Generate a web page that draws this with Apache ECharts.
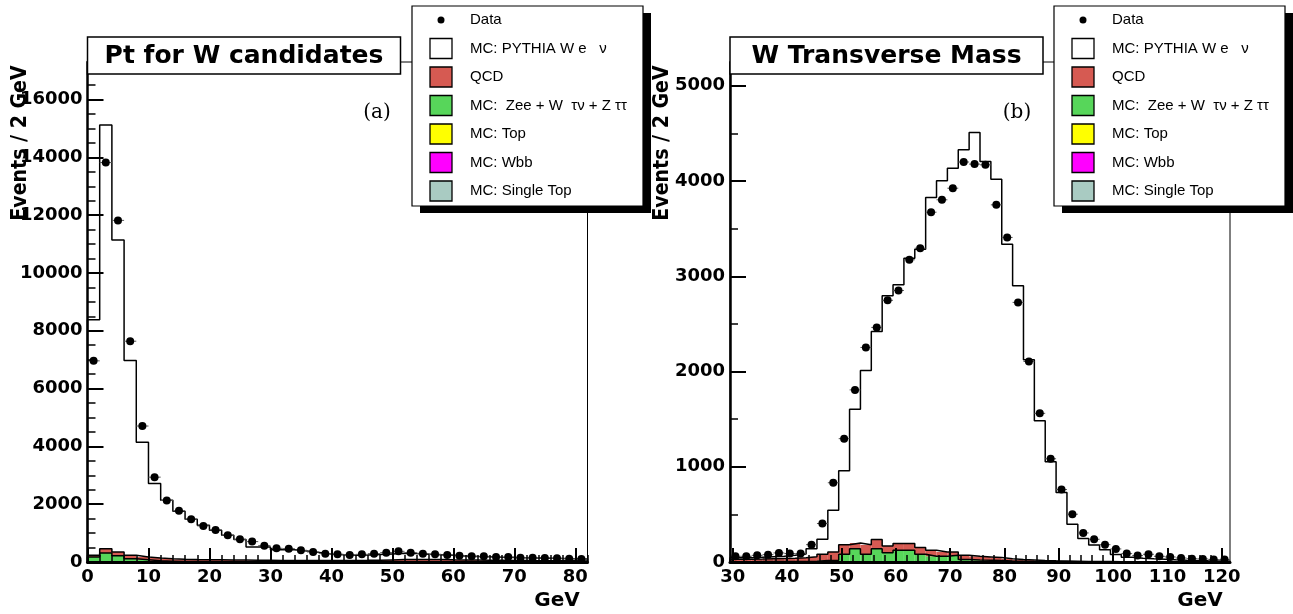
<!DOCTYPE html>
<html><head><meta charset="utf-8">
<script src="https://cdn.jsdelivr.net/npm/echarts@6/dist/echarts.min.js"></script>
<style>html,body{margin:0;padding:0;background:#fff}#c{width:1293px;height:614px}</style>
</head><body><div id="c"></div>
<script>
// ================= DATA =================
// Panel (a): Pt for W candidates, 2 GeV bins from 0 to 82
const ptBinLow = 0, ptBinWidth = 2;
const ptData = [6960, 13820, 11820, 7640, 4705, 2936, 2127, 1769, 1480, 1248,
  1110, 925, 786, 705, 566, 474, 462, 405, 347, 289,
  266, 243, 266, 289, 324, 370, 324, 289, 266, 243,
  220, 197, 197, 173, 173, 150, 150, 140, 127, 115, 104];
const ptWenu = [8149, 14658, 10793, 6739, 3967, 2578, 2025, 1662, 1395, 1190,
  1022, 854, 709, 459, 459, 364, 364, 328, 279, 229,
  197, 175, 182, 197, 207, 217, 202, 182, 167, 153,
  138, 123, 118, 108, 108, 93, 93, 83, 78, 68, 63];
const ptQCD = [58, 150, 127, 116, 93, 99, 85, 75, 70, 70,
  68, 64, 60, 56, 56, 52, 52, 48, 48, 48,
  50, 52, 55, 60, 70, 80, 85, 85, 80, 75,
  70, 65, 60, 55, 50, 50, 45, 45, 40, 40, 35];
const ptZee = [173, 312, 220, 115, 80, 40, 30, 20, 15, 10,
  8, 7, 6, 5, 5, 4, 4, 4, 3, 3,
  3, 3, 3, 3, 3, 3, 3, 3, 3, 2,
  2, 2, 2, 2, 2, 2, 2, 2, 2, 2, 2];

// Panel (b): W transverse mass, 2 GeV bins from 29.5 to 121.5
const mtBinLow = 29.5, mtBinWidth = 2;
const mtData = [60, 60, 70, 77, 95, 88, 88, 182, 404, 832,
  1295, 1807, 2253, 2463, 2748, 2851, 3173, 3295, 3673, 3803,
  3925, 4200, 4178, 4170, 3750, 3408, 2726, 2105, 1561, 1084,
  761, 502, 305, 239, 182, 137, 88, 67, 81, 60,
  53, 42, 35, 32, 25, 25];
const mtWenu = [15, 15, 18, 20, 22, 30, 40, 85, 158, 439,
  776, 1404, 1829, 2186, 2627, 2717, 2997, 3134, 3704, 3897,
  4030, 4258, 4450, 4152, 3974, 3302, 2875, 2103, 1469, 1041,
  720, 389, 240, 174, 124, 76, 49, 37, 32, 28,
  23, 18, 14, 11, 9, 7];
const mtQCD = [27, 27, 28, 31, 33, 35, 39, 47, 66, 87,
  101, 60, 101, 95, 70, 70, 70, 70, 63, 45,
  35, 45, 40, 35, 31, 25, 17, 14, 10, 8,
  7, 6, 4, 3, 3, 2, 1, 1, 2, 2,
  1, 1, 1, 1, 1, 1];
const mtZee = [3, 3, 4, 4, 5, 5, 6, 8, 15, 18,
  81, 140, 81, 140, 98, 123, 123, 81, 60, 60,
  70, 25, 20, 18, 15, 10, 8, 6, 5, 4,
  3, 2, 2, 1, 1, 1, 1, 1, 0, 0,
  0, 0, 0, 0, 0, 0];

// Axis ticks / labels
const ptXTicks = [0, 10, 20, 30, 40, 50, 60, 70, 80];
const mtXTicks = [30, 40, 50, 60, 70, 80, 90, 100, 110, 120];
const ptYTicks = [0, 2000, 4000, 6000, 8000, 10000, 12000, 14000, 16000];
const mtYTicks = [0, 1000, 2000, 3000, 4000, 5000];

const legendLabels = ['Data', 'MC: PYTHIA W e   \u03bd', 'QCD', 'MC:  Zee + W  \u03c4\u03bd + Z \u03c4\u03c4', 'MC: Top', 'MC: Wbb', 'MC: Single Top'];
const legendColors = [null, '#ffffff', '#d65a52', '#57d65a', '#ffff00', '#ff00ff', '#a9cbc2'];
const titles = ['Pt for W candidates', 'W Transverse Mass'];
const panelTags = ['(a)', '(b)'];

// ================= CHART =================
const chart = echarts.init(document.getElementById('c'), null, {renderer: 'canvas'});
const BOLD = 'DejaVu Sans';
const COL_QCD = legendColors[2], COL_ZEE = legendColors[3];

function range(a, b, s) { const r = []; for (let v = a; v <= b + 1e-9; v += s) r.push(+v.toFixed(3)); return r; }
const ptXMinor = range(0, 82, 2);
const mtXMinor = range(30, 120, 2);
const ptYMinor = range(0, 17000, 500);
const mtYMinor = range(0, 5000, 500);

const series = [];
function buildPanel(xi, yi, binLow, binW, data, comps) {
  const n = data.length;
  const edge = i => binLow + i * binW;
  let base = new Array(n).fill(0);
  const fills = [], outlines = [];
  comps.forEach(c => {
    const top = base.map((b, i) => b + c.vals[i]);
    const b0 = base.slice();
    fills.push({
      type: 'custom', xAxisIndex: xi, yAxisIndex: yi, z: 2, clip: true, silent: true,
      renderItem: (params, api) => {
        const p1 = api.coord([api.value(0), api.value(3)]);
        const p2 = api.coord([api.value(1), api.value(2)]);
        return {type: 'rect', shape: {x: p1[0], y: p1[1], width: p2[0] - p1[0], height: p2[1] - p1[1]},
          style: {fill: c.color}};
      },
      encode: {x: [0, 1], y: [2, 3]},
      data: top.map((t, i) => [edge(i), edge(i + 1), b0[i], t])
    });
    const pts = [[edge(0), 0]];
    top.forEach((t, i) => pts.push([edge(i), t]));
    pts.push([edge(n), top[n - 1]]);
    pts.push([edge(n), 0]);
    outlines.push({
      type: 'line', xAxisIndex: xi, yAxisIndex: yi, z: 3, step: 'end', symbol: 'none', silent: true,
      lineStyle: {color: '#000', width: 1.5}, data: pts
    });
    base = top;
  });
  series.push(...fills, ...outlines);
  series.push({
    type: 'custom', xAxisIndex: xi, yAxisIndex: yi, z: 4, clip: true, silent: true,
    renderItem: (params, api) => {
      const a = api.coord([api.value(0), api.value(2)]);
      const b = api.coord([api.value(1), api.value(2)]);
      return {type: 'line', shape: {x1: a[0], y1: a[1], x2: b[0], y2: b[1]}, style: {stroke: '#555', lineWidth: 1}};
    },
    encode: {x: [0, 1], y: 2},
    data: data.map((v, i) => [edge(i), edge(i + 1), v])
  });
  series.push({
    type: 'scatter', xAxisIndex: xi, yAxisIndex: yi, z: 5, symbol: 'circle', symbolSize: 8, silent: true,
    itemStyle: {color: '#000', opacity: 1},
    data: data.map((v, i) => [edge(i) + binW / 2, v])
  });
}
buildPanel(0, 0, ptBinLow, ptBinWidth, ptData, [
  {vals: ptZee, color: COL_ZEE}, {vals: ptQCD, color: COL_QCD}, {vals: ptWenu, color: '#ffffff'}]);
buildPanel(2, 2, mtBinLow, mtBinWidth, mtData, [
  {vals: mtZee, color: COL_ZEE}, {vals: mtQCD, color: COL_QCD}, {vals: mtWenu, color: '#ffffff'}]);

const lbl = {fontFamily: BOLD, fontWeight: 'bold', fontSize: 18, color: '#000', formatter: v => String(v)};
function xAxes(grid, min, max, major, minor) {
  return [
    {gridIndex: grid, type: 'value', min, max, position: 'bottom', z: 10,
      axisLine: {show: true, onZero: false, lineStyle: {color: '#000', width: 3}},
      axisTick: {show: true, inside: true, length: 14, customValues: major, lineStyle: {color: '#000', width: 2}},
      axisLabel: Object.assign({customValues: major, margin: 6}, lbl),
      splitLine: {show: false}},
    {gridIndex: grid, type: 'value', min, max, position: 'bottom', z: 10,
      axisLine: {show: false},
      axisTick: {show: true, inside: true, length: 7, customValues: minor, lineStyle: {color: '#000', width: 1.5}},
      axisLabel: {show: false}, splitLine: {show: false}}
  ];
}
function yAxes(grid, max, major, minor) {
  return [
    {gridIndex: grid, type: 'value', min: 0, max, position: 'left', z: 10,
      axisLine: {show: true, onZero: false, lineStyle: {color: '#000', width: 2.5}},
      axisTick: {show: true, inside: true, length: 16, customValues: major, lineStyle: {color: '#000', width: 2}},
      axisLabel: Object.assign({customValues: major, margin: 5}, lbl),
      splitLine: {show: false}},
    {gridIndex: grid, type: 'value', min: 0, max, position: 'left', z: 10,
      axisLine: {show: false},
      axisTick: {show: true, inside: true, length: 8, customValues: minor, lineStyle: {color: '#000', width: 1.5}},
      axisLabel: {show: false}, splitLine: {show: false}}
  ];
}

// ---------- decorations: titles, legends, axis names ----------
const graphics = [];
const panels = [
  {gridLeft: 87.5, legX: 412, tagX: 377, nameX: 20, gevX: 557},
  {gridLeft: 730, legX: 1054, tagX: 1017, nameX: 662, gevX: 1200}
];
panels.forEach((p, k) => {
  graphics.push({type: 'rect', z: 100, shape: {x: p.gridLeft, y: 37, width: 313, height: 37},
    style: {fill: '#fff', stroke: '#000', lineWidth: 1.5}});
  graphics.push({type: 'text', z: 101, x: p.gridLeft + 156.5, y: 56,
    style: {text: titles[k], fill: '#000', font: 'bold 25px "DejaVu Sans"', align: 'center', verticalAlign: 'middle'}});
  graphics.push({type: 'text', z: 101, x: p.tagX, y: 113,
    style: {text: panelTags[k], fill: '#000', font: '20px "DejaVu Serif"', align: 'center', verticalAlign: 'middle'}});
  graphics.push({type: 'text', z: 101, x: p.nameX, y: 143, rotation: Math.PI / 2, scaleY: 1.15,
    style: {text: 'Events / 2 GeV', fill: '#000', font: 'bold 19px "DejaVu Sans"', align: 'center', verticalAlign: 'middle'}});
  graphics.push({type: 'text', z: 101, x: p.gevX, y: 601,
    style: {text: 'GeV', fill: '#000', font: 'bold 20px "DejaVu Sans"', align: 'center', verticalAlign: 'middle'}});
  const lx = p.legX;
  graphics.push({type: 'rect', z: 100, shape: {x: lx + 8, y: 13, width: 231, height: 200}, style: {fill: '#000'}});
  graphics.push({type: 'rect', z: 101, shape: {x: lx, y: 6, width: 231, height: 200},
    style: {fill: '#fff', stroke: '#000', lineWidth: 1.2}});
  legendLabels.forEach((t, i) => {
    const cy = 20 + i * 28.5;
    if (legendColors[i] === null) {
      graphics.push({type: 'circle', z: 102, shape: {cx: lx + 29, cy, r: 3.5}, style: {fill: '#000'}});
    } else {
      graphics.push({type: 'rect', z: 102, shape: {x: lx + 18, y: cy - 10, width: 22, height: 20},
        style: {fill: legendColors[i], stroke: '#000', lineWidth: 1.3}});
    }
    graphics.push({type: 'text', z: 102, x: lx + 58, y: cy,
      style: {text: t, fill: '#000', font: '15px "Liberation Sans"', align: 'left', verticalAlign: 'middle'}});
  });
});

chart.setOption({
  animation: false,
  backgroundColor: '#fff',
  grid: [
    {left: 87.5, top: 62, width: 500, height: 500, show: true, borderColor: '#000', borderWidth: 1, containLabel: false},
    {left: 730, top: 62, width: 500, height: 500, show: true, borderColor: '#000', borderWidth: 1, containLabel: false}
  ],
  xAxis: [...xAxes(0, 0, 82, ptXTicks, ptXMinor), ...xAxes(1, 29.5, 121.5, mtXTicks, mtXMinor)],
  yAxis: [...yAxes(0, 17300, ptYTicks, ptYMinor), ...yAxes(1, 5250, mtYTicks, mtYMinor)],
  series,
  graphic: graphics
});
</script>
</body></html>
